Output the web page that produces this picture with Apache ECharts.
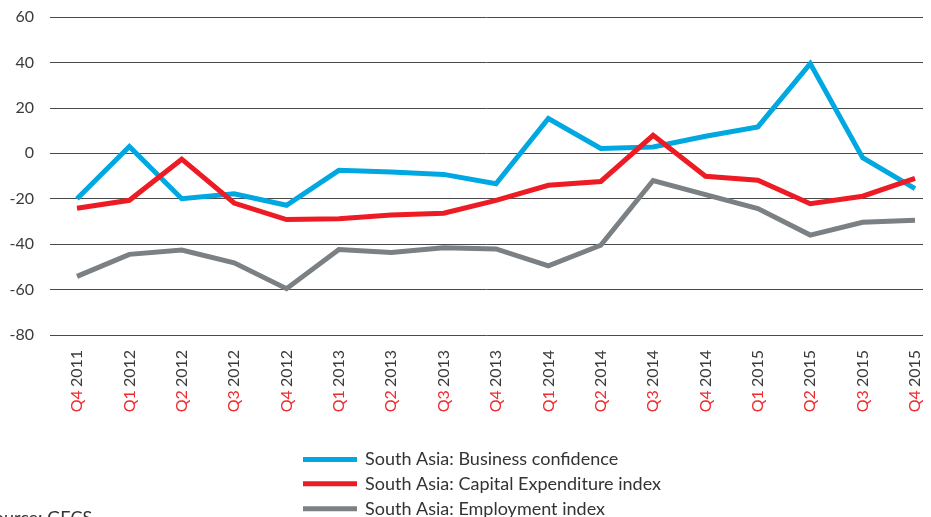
<!DOCTYPE html>
<html>
<head>
<meta charset="utf-8">
<script src="https://cdn.jsdelivr.net/npm/echarts@6/dist/echarts.min.js"></script>
<style>html,body{margin:0;padding:0;background:#fff}#c{width:931px;height:517px}</style>
</head>
<body>
<div id="c"></div>
<script>
var quarters = ['Q4','Q1','Q2','Q3','Q4','Q1','Q2','Q3','Q4','Q1','Q2','Q3','Q4','Q1','Q2','Q3','Q4'];
var years = ['2011','2012','2012','2012','2012','2013','2013','2013','2013','2014','2014','2014','2014','2015','2015','2015','2015'];
var categories = quarters.map(function(q, i){ return q + ' ' + years[i]; });
var businessConfidence = [-20, 3, -20, -17.8, -22.9, -7.5, -8.2, -9.3, -13.4, 15.3, 2.1, 2.8, 7.5, 11.6, 39.5, -1.9, -15.6];
var capexIndex = [-24.2, -20.7, -2.6, -21.9, -29.2, -28.8, -27.2, -26.4, -20.7, -14.1, -12.4, 7.9, -10.1, -11.9, -22.2, -18.9, -11.0];
var employmentIndex = [-54.2, -44.5, -42.6, -48.2, -59.6, -42.4, -43.7, -41.6, -42.1, -49.6, -40.5, -12.0, -18.2, -24.3, -36.0, -30.4, -29.5];
var yTicks = {min: -80, max: 60, interval: 20};
var seriesNames = ['South Asia: Business confidence', 'South Asia: Capital Expenditure index', 'South Asia: Employment index'];
var colors = ['#00a8e1', '#ed1c24', '#7a8083'];

var chart = echarts.init(document.getElementById('c'));
var font = 'Lato, "Open Sans", sans-serif';
function mk(name, data, color) {
  return {
    name: name, type: 'line', xAxisIndex: 1, yAxisIndex: 1, data: data,
    symbol: 'none', color: color,
    lineStyle: {width: 5, color: color, join: 'miter'},
    animation: false
  };
}
function lg(name, top) {
  return {
    orient: 'vertical', left: 303, top: top, padding: 0,
    itemWidth: 54, itemHeight: 5, icon: 'rect',
    data: [name],
    textStyle: {color: '#333', fontSize: 18, lineHeight: 20, fontFamily: font, padding: [0, 0, 0, 3]}
  };
}
chart.setOption({
  animation: false,
  textStyle: {fontFamily: font},
  grid: [
    {left: 50, right: 8, top: 17, bottom: 182},
    {left: 77, right: 16, top: 17, bottom: 182}
  ],
  xAxis: [
    {gridIndex: 0, type: 'value', min: 0, max: 1, show: false},
    {gridIndex: 1, type: 'category', data: categories, boundaryGap: false,
     axisLine: {show: false}, axisTick: {show: false},
     axisLabel: {
       rotate: 90, margin: 15, interval: 0,
       formatter: function(v){ var p = v.split(' '); return '{q|' + p[0] + '} {y|' + p[1] + '}'; },
       rich: {
         q: {color: '#ee2a2f', fontSize: 16, fontFamily: font},
         y: {color: '#3a3a3a', fontSize: 16, fontFamily: font}
       }
     }}
  ],
  yAxis: [
    {gridIndex: 0, type: 'value', min: yTicks.min, max: yTicks.max, interval: yTicks.interval,
     axisLine: {show: false}, axisTick: {show: false},
     axisLabel: {color: '#3a3a3a', fontSize: 16, margin: 16, fontFamily: font},
     splitLine: {lineStyle: {color: '#4a4a4a', width: 1}}},
    {gridIndex: 1, type: 'value', min: yTicks.min, max: yTicks.max, interval: yTicks.interval, show: false,
     splitLine: {show: false}}
  ],
  legend: [lg(seriesNames[0], 449.5), lg(seriesNames[1], 473.7), lg(seriesNames[2], 498.7)],
  graphic: [{
    type: 'text', left: -16, top: 509,
    style: {text: 'Source: GECS', fill: '#333', font: '18px ' + font}
  }],
  series: [
    mk(seriesNames[0], businessConfidence, colors[0]),
    mk(seriesNames[1], capexIndex, colors[1]),
    mk(seriesNames[2], employmentIndex, colors[2])
  ]
});
</script>
</body>
</html>
